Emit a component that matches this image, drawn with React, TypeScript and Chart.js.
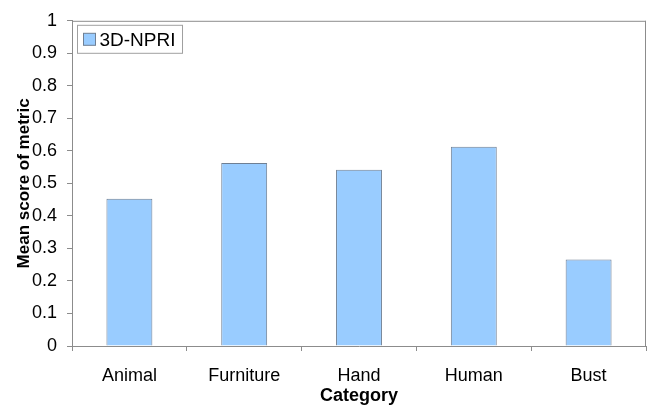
import React, { useEffect, useRef } from "react";
import { Chart, registerables } from "chart.js";

Chart.register(...registerables);

const categories = ["Animal", "Furniture", "Hand", "Human", "Bust"];
const seriesLabel = "3D-NPRI";
const seriesValues = [0.453, 0.563, 0.542, 0.613, 0.266];
const yTicks = [0, 0.1, 0.2, 0.3, 0.4, 0.5, 0.6, 0.7, 0.8, 0.9, 1];

const FONT = "'Liberation Sans', Arial, sans-serif";
const BAR_FILL = "#99CCFF";
const BAR_EDGE = "#6F7F93";
const AXIS = "#8C8C8C";

const frameAndLegend = {
  id: "frameAndLegend",
  afterDraw(chart: any) {
    const { ctx, chartArea } = chart;
    const { left, top, right, bottom } = chartArea;
    ctx.save();
    ctx.strokeStyle = AXIS;
    ctx.lineWidth = 1;
    ctx.beginPath();
    ctx.moveTo(left, top + 0.5);
    ctx.lineTo(right, top + 0.5);
    ctx.moveTo(right - 0.5, top);
    ctx.lineTo(right - 0.5, bottom);
    ctx.stroke();

    // legend
    const ds = chart.data.datasets[0];
    ctx.font = `19px ${FONT}`;
    const tw = ctx.measureText(ds.label).width;
    const bx = left + 5.5;
    const by = top + 4.5;
    const sw = 12;
    const bw = 6 + sw + 4 + tw + 7;
    const bh = 28;
    ctx.fillStyle = "#ffffff";
    ctx.fillRect(bx, by, bw, bh);
    ctx.strokeStyle = "#A0A0A0";
    ctx.strokeRect(bx, by, bw, bh);
    ctx.fillStyle = BAR_FILL;
    ctx.fillRect(bx + 6, by + 8, sw, sw);
    ctx.strokeStyle = BAR_EDGE;
    ctx.strokeRect(bx + 6, by + 8, sw, sw);
    ctx.fillStyle = "#000000";
    ctx.textBaseline = "middle";
    ctx.textAlign = "left";
    ctx.fillText(ds.label, bx + 6 + sw + 4, by + bh / 2 + 1);
    ctx.restore();
  },
};

export default function App() {
  const ref = useRef<HTMLCanvasElement | null>(null);

  useEffect(() => {
    document.body.style.margin = "0";
    const canvas = ref.current;
    if (!canvas) return;
    const chart = new Chart(canvas, {
      type: "bar",
      data: {
        labels: categories,
        datasets: [
          {
            label: seriesLabel,
            data: seriesValues,
            backgroundColor: BAR_FILL,
            borderColor: BAR_EDGE,
            borderWidth: 1,
            barPercentage: 0.8,
            categoryPercentage: 0.5,
          },
        ],
      },
      options: {
        responsive: false,
        animation: false,
        devicePixelRatio: 1,
        layout: { padding: { top: 15, right: 3, left: 0, bottom: 0 } },
        plugins: {
          legend: { display: false },
          tooltip: { enabled: false },
        },
        scales: {
          x: {
            offset: true,
            grid: {
              offset: true,
              drawOnChartArea: false,
              drawTicks: true,
              tickLength: 5,
              color: AXIS,
            },
            border: { color: AXIS },
            ticks: {
              color: "#000",
              font: { family: FONT, size: 18 },
              padding: 14,
              maxRotation: 0,
            },
            title: {
              display: true,
              text: "Category",
              color: "#000",
              font: { family: FONT, size: 18, weight: "bold" },
              padding: { top: 0, bottom: 0 },
            },
            afterFit: (s: any) => {
              s.height = 61;
            },
          },
          y: {
            min: 0,
            max: 1,
            afterBuildTicks: (s: any) => {
              s.ticks = yTicks.map((v) => ({ value: v }));
            },
            grid: {
              drawOnChartArea: false,
              drawTicks: true,
              tickLength: 5,
              color: AXIS,
            },
            border: { color: AXIS },
            ticks: {
              color: "#000",
              font: { family: FONT, size: 18 },
              padding: 10,
              callback: (v: any) => String(Math.round(Number(v) * 10) / 10),
            },
            title: {
              display: true,
              text: "Mean score of metric",
              color: "#000",
              font: { family: FONT, size: 17, weight: "bold" },
              padding: { top: 14, bottom: 0 },
            },
            afterFit: (s: any) => {
              s.width = 72;
            },
          },
        },
      },
      plugins: [frameAndLegend],
    } as any);
    return () => chart.destroy();
  }, []);

  return (
    <div style={{ position: "absolute", left: 0, top: 0, width: 649, height: 407, background: "#fff" }}>
      <canvas ref={ref} width={649} height={407} />
    </div>
  );
}
